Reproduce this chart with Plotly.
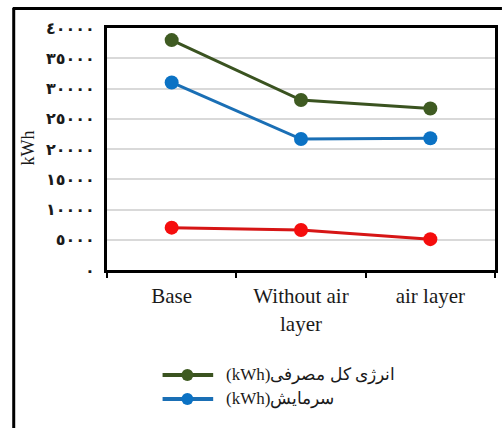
import plotly.graph_objects as go

# Scenarios compared
categories = ["Base", "Without air<br>layer", "air layer"]

# Annual energy per scenario (kWh)
total_energy = [38000, 28100, 26700]
cooling = [31000, 21650, 21770]
heating = [7000, 6600, 5100]

# Y-axis ticks with Arabic-Indic digit labels
tick_values = [0, 5000, 10000, 15000, 20000, 25000, 30000, 35000, 40000]
tick_labels = ["٠", "٥٠٠٠", "١٠٠٠٠", "١٥٠٠٠", "٢٠٠٠٠", "٢٥٠٠٠", "٣٠٠٠٠", "٣٥٠٠٠", "٤٠٠٠٠"]

series = [
    ("(kWh)انرژی کل مصرفی", total_energy, "#3f5b22", "#3a5320", True),
    ("(kWh)سرمایش", cooling, "#0b72c4", "#1a6fb5", True),
    ("(kWh)گرمایش", heating, "#f50d0d", "#d61515", False),
]

W, H = 503, 428
L, R, T, B = 107, 498, 28, 270


def px_x(p):
    return (p - L) / (R - L)


def px_y(p):
    return (B - p) / (B - T)


fig = go.Figure()
for name, values, mcolor, lcolor, show in series:
    fig.add_trace(go.Scatter(
        x=categories, y=values, name=name, mode="lines+markers",
        line=dict(color=lcolor, width=3),
        marker=dict(color=mcolor, size=14),
        showlegend=False,
    ))

shapes = [
    # outer frame: left and top edges
    dict(type="line", xref="paper", yref="paper",
         x0=px_x(13), x1=px_x(13), y0=px_y(8), y1=px_y(430),
         line=dict(color="black", width=3)),
    dict(type="line", xref="paper", yref="paper",
         x0=px_x(12), x1=px_x(505), y0=px_y(8.5), y1=px_y(8.5),
         line=dict(color="black", width=3)),
]
annotations = [dict(
    text="kWh", textangle=-90, xref="paper", yref="paper",
    x=px_x(27), y=px_y(148), xanchor="center", yanchor="middle",
    showarrow=False,
    font=dict(size=18, family="Liberation Serif", color="#1a1a1a"),
)]

# legend entries: line + marker symbol followed by the series name
row_y = 375
for name, values, mcolor, lcolor, show in series:
    if not show:
        continue
    shapes.append(dict(type="line", xref="paper", yref="paper",
                       x0=px_x(163), x1=px_x(214), y0=px_y(row_y), y1=px_y(row_y),
                       line=dict(color=lcolor, width=4)))
    shapes.append(dict(type="circle", xref="paper", yref="paper",
                       x0=px_x(182), x1=px_x(194), y0=px_y(row_y + 6), y1=px_y(row_y - 6),
                       fillcolor=mcolor, line=dict(color=mcolor, width=0)))
    annotations.append(dict(
        text=name, xref="paper", yref="paper", x=px_x(225), y=px_y(row_y),
        xanchor="left", yanchor="middle", showarrow=False,
        font=dict(size=17, family="Liberation Serif", color="#1a1a1a"),
    ))
    row_y += 24

fig.update_layout(
    width=W, height=H,
    margin=dict(l=L, r=W - R, t=T, b=H - B),
    paper_bgcolor="white", plot_bgcolor="white",
    font=dict(family="Liberation Serif", color="#1a1a1a"),
    showlegend=False,
    xaxis=dict(
        type="category", showline=True, linecolor="black", linewidth=3,
        mirror=True, ticks="outside", tickson="boundaries", ticklen=5,
        tickwidth=2, tickcolor="black", showgrid=False,
        tickfont=dict(size=21, family="Liberation Serif", color="#1a1a1a"),
        ticklabelstandoff=5,
        range=[-0.5, 2.5],
    ),
    yaxis=dict(
        range=[0, 40000], tickvals=tick_values, ticktext=tick_labels,
        showline=True, linecolor="black", linewidth=3, mirror=True,
        showgrid=True, gridcolor="#d9d9d9", gridwidth=2, zeroline=False,
        ticks="", ticklabelstandoff=6,
        tickfont=dict(size=16, family="DejaVu Sans", color="#1a1a1a", weight="bold"),
    ),
    annotations=annotations,
    shapes=shapes,
)

fig.write_html("out.html")
